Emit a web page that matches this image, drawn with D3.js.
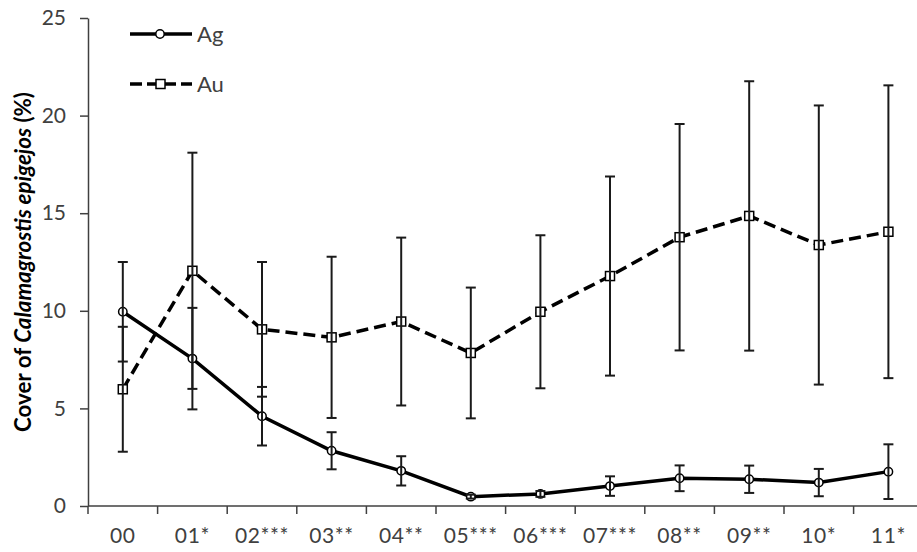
<!DOCTYPE html>
<html><head><meta charset="utf-8">
<script src="https://cdn.jsdelivr.net/npm/d3@7"></script>
<style>
html,body{margin:0;padding:0;background:#fff;}
svg{display:block;font-family:Lato,"Open Sans",sans-serif;}
</style></head>
<body>
<svg id="chart" width="917" height="552"></svg>
<script>
const categories = ["00","01*","02***","03**","04**","05***","06***","07***","08**","09**","10*","11*"];
const agValues = [9.95, 7.55, 4.6, 2.83, 1.8, 0.48, 0.62, 1.02, 1.42, 1.37, 1.2, 1.76];
const agErrors = [2.55, 2.6, 1.5, 0.95, 0.75, 0.1, 0.15, 0.5, 0.66, 0.7, 0.7, 1.4];
const auValues = [5.98, 12.05, 9.05, 8.64, 9.45, 7.84, 9.95, 11.78, 13.77, 14.86, 13.37, 14.05];
const auErrors = [3.2, 6.05, 3.45, 4.13, 4.3, 3.35, 3.92, 5.1, 5.8, 6.9, 7.15, 7.5];
const yTicks = [0, 5, 10, 15, 20, 25];
const seriesNames = ["Ag", "Au"];

const svg = d3.select("#chart");
const x = d3.scaleBand().domain(categories).range([88, 923.2]);
const y = d3.scaleLinear().domain([0, 25]).range([506, 18]);
const cx = d => x(d) + x.bandwidth() / 2;
const axisColor = "#404040";
const textColor = "#404040";

// Y axis
const yAxis = svg.append("g").attr("transform", "translate(88,0)")
  .call(d3.axisLeft(y).tickValues(yTicks).tickSize(8).tickPadding(14).tickSizeOuter(0));
yAxis.select(".domain").attr("stroke", axisColor).attr("stroke-width", 1.5);
yAxis.selectAll(".tick line").attr("stroke", axisColor).attr("stroke-width", 1.5);
yAxis.selectAll(".tick text").attr("fill", textColor).style("font-size", "21px").style("font-family", "Lato");

// X axis line and boundary ticks
svg.append("line").attr("x1", x.range()[0]).attr("x2", x.range()[1])
  .attr("y1", y(0)).attr("y2", y(0)).attr("stroke", axisColor).attr("stroke-width", 1.5);
svg.append("g").selectAll("line").data(categories).join("line")
  .attr("x1", d => x(d)).attr("x2", d => x(d))
  .attr("y1", y(0)).attr("y2", y(0) + 8)
  .attr("stroke", axisColor).attr("stroke-width", 1.5);
const xAxis = svg.append("g").attr("transform", `translate(0,${y(0)})`)
  .call(d3.axisBottom(x).tickSize(0).tickPadding(22));
xAxis.select(".domain").remove();
xAxis.selectAll(".tick text").attr("fill", textColor).style("font-size", "21px")
  .style("font-family", "Lato").style("letter-spacing", "0.6px");

// Y axis title
const title = svg.append("text")
  .attr("transform", `translate(31,${(y(0) + y(25)) / 2}) rotate(-90)`)
  .attr("text-anchor", "middle").attr("fill", "#000")
  .style("font-size", "20px").style("font-family", "Lato").style("font-weight", "bold");
title.append("tspan").text("Cover of ");
title.append("tspan").attr("font-style", "italic").text("Calamagrostis epigejos");
title.append("tspan").text(" (%)");
const tl = title.node().getComputedTextLength();
if (tl > 0) title.style("font-size", (20 * 340 / tl).toFixed(2) + "px");

const agData = categories.map((c, i) => ({c, v: agValues[i], e: agErrors[i]}));
const auData = categories.map((c, i) => ({c, v: auValues[i], e: auErrors[i]}));
const line = d3.line().x(d => cx(d.c)).y(d => y(d.v));

// Lines
svg.append("path").datum(auData).attr("d", line).attr("fill", "none")
  .attr("stroke", "#000").attr("stroke-width", 3.5).attr("stroke-dasharray", "12,6");
svg.append("path").datum(agData).attr("d", line).attr("fill", "none")
  .attr("stroke", "#000").attr("stroke-width", 3.5);

// Markers
svg.append("g").selectAll("rect").data(auData).join("rect")
  .attr("x", d => cx(d.c) - 4.5).attr("y", d => y(d.v) - 4.5)
  .attr("width", 9).attr("height", 9)
  .attr("fill", "#fff").attr("stroke", "#000").attr("stroke-width", 1.5);
svg.append("g").selectAll("circle").data(agData).join("circle")
  .attr("cx", d => cx(d.c)).attr("cy", d => y(d.v)).attr("r", 4.2)
  .attr("fill", "#fff").attr("stroke", "#000").attr("stroke-width", 1.5);

// Error bars
function errorBars(data) {
  const g = svg.append("g").attr("stroke", "#1a1a1a").attr("stroke-width", 2);
  g.selectAll("line.v").data(data).join("line").attr("class", "v")
    .attr("x1", d => cx(d.c)).attr("x2", d => cx(d.c))
    .attr("y1", d => y(d.v + d.e)).attr("y2", d => y(d.v - d.e));
  g.selectAll("line.t").data(data).join("line").attr("class", "t")
    .attr("x1", d => cx(d.c) - 5).attr("x2", d => cx(d.c) + 5)
    .attr("y1", d => y(d.v + d.e)).attr("y2", d => y(d.v + d.e));
  g.selectAll("line.b").data(data).join("line").attr("class", "b")
    .attr("x1", d => cx(d.c) - 5).attr("x2", d => cx(d.c) + 5)
    .attr("y1", d => y(d.v - d.e)).attr("y2", d => y(d.v - d.e));
}
errorBars(auData);
errorBars(agData);

// Legend
const legend = svg.append("g");
const legY = [34, 84];
legend.append("line").attr("x1", 130).attr("x2", 192).attr("y1", legY[0]).attr("y2", legY[0])
  .attr("stroke", "#000").attr("stroke-width", 3.5);
legend.append("circle").attr("cx", 160).attr("cy", legY[0]).attr("r", 4.2)
  .attr("fill", "#fff").attr("stroke", "#000").attr("stroke-width", 1.5);
legend.append("line").attr("x1", 130).attr("x2", 192).attr("y1", legY[1]).attr("y2", legY[1])
  .attr("stroke", "#000").attr("stroke-width", 3.5).attr("stroke-dasharray", "12,5");
legend.append("rect").attr("x", 156).attr("y", legY[1] - 4.5).attr("width", 9).attr("height", 9)
  .attr("fill", "#fff").attr("stroke", "#000").attr("stroke-width", 1.5);
legend.selectAll("text").data(seriesNames).join("text")
  .attr("x", 197).attr("y", (d, i) => legY[i]).attr("dy", "0.36em")
  .attr("fill", textColor).style("font-size", "22px").style("font-family", "Lato")
  .text(d => d);
</script>
</body></html>
